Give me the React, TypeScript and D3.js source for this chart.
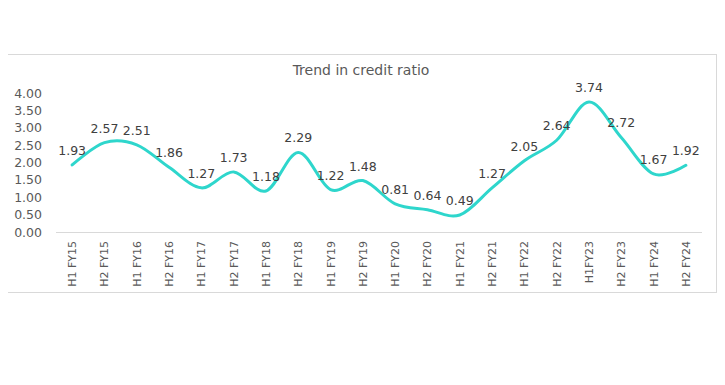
import { useEffect, useRef } from 'react'
import * as d3 from 'd3'

const periods = [
  'H1 FY15', 'H2 FY15', 'H1 FY16', 'H2 FY16', 'H1 FY17', 'H2 FY17', 'H1 FY18', 'H2 FY18',
  'H1 FY19', 'H2 FY19', 'H1 FY20', 'H2 FY20', 'H1 FY21', 'H2 FY21', 'H1 FY22', 'H2 FY22',
  'H1FY23', 'H2 FY23', 'H1 FY24', 'H2 FY24',
]
const creditRatio = [
  1.93, 2.57, 2.51, 1.86, 1.27, 1.73, 1.18, 2.29, 1.22, 1.48,
  0.81, 0.64, 0.49, 1.27, 2.05, 2.64, 3.74, 2.72, 1.67, 1.92,
]
const yTicks = [0, 0.5, 1, 1.5, 2, 2.5, 3, 3.5, 4]

const App = () => {
  const svgRef = useRef<SVGSVGElement>(null)

  useEffect(() => {
    if (!svgRef.current) return
    const svg = d3.select(svgRef.current)
    svg.selectAll('*').remove()

    const width = 725
    const height = 385
    const font = 'Verdana, "DejaVu Sans", sans-serif'
    const textColor = '#595959'

    svg.attr('width', width).attr('height', height)

    // chart frame
    svg.append('rect')
      .attr('x', 5.5)
      .attr('y', 54.5)
      .attr('width', 711)
      .attr('height', 238)
      .attr('fill', '#fff')
      .attr('stroke', '#d9d9d9')
      .attr('stroke-width', 1)

    svg.append('text')
      .attr('x', 361)
      .attr('y', 75)
      .attr('text-anchor', 'middle')
      .style('font-family', font)
      .style('font-size', '14px')
      .style('fill', textColor)
      .text('Trend in credit ratio')

    const xScale = d3.scaleBand()
      .domain(periods)
      .range([56, 702])

    const yScale = d3.scaleLinear()
      .domain([0, 4])
      .range([232, 93])

    const cx = (p: string) => xScale(p)! + xScale.bandwidth() / 2

    // y axis labels
    const yAxis = svg.append('g')
      .attr('transform', 'translate(42, 0)')
      .call(d3.axisLeft(yScale).tickValues(yTicks).tickSize(0).tickPadding(0)
        .tickFormat(d => (d as number).toFixed(2)))
    yAxis.select('.domain').remove()
    yAxis.selectAll('text')
      .style('font-family', font)
      .style('font-size', '12.5px')
      .style('fill', textColor)

    // x axis
    svg.append('line')
      .attr('x1', 56)
      .attr('x2', 702)
      .attr('y1', 232.5)
      .attr('y2', 232.5)
      .attr('stroke', '#d9d9d9')
      .attr('stroke-width', 1)

    svg.append('g')
      .selectAll('text')
      .data(periods)
      .join('text')
      .attr('transform', d => `translate(${cx(d) + 4}, 241) rotate(-90)`)
      .attr('text-anchor', 'end')
      .style('font-family', font)
      .style('font-size', '11px')
      .style('fill', textColor)
      .text(d => d)

    // smoothed line
    const line = d3.line<number>()
      .x((_, i) => cx(periods[i]))
      .y(d => yScale(d))
      .curve(d3.curveCardinal.tension(0))

    svg.append('path')
      .datum(creditRatio)
      .attr('d', line)
      .attr('fill', 'none')
      .attr('stroke', '#2ed6cc')
      .attr('stroke-width', 3)
      .attr('stroke-linecap', 'round')

    // data labels
    svg.append('g')
      .selectAll('text')
      .data(creditRatio)
      .join('text')
      .attr('x', (_, i) => cx(periods[i]))
      .attr('y', d => yScale(d) - 10)
      .attr('text-anchor', 'middle')
      .style('font-family', font)
      .style('font-size', '12.5px')
      .style('fill', '#404040')
      .text(d => d.toFixed(2))
  }, [])

  return <svg ref={svgRef} style={{ display: 'block', margin: '-8px' }} />
}

export default App
